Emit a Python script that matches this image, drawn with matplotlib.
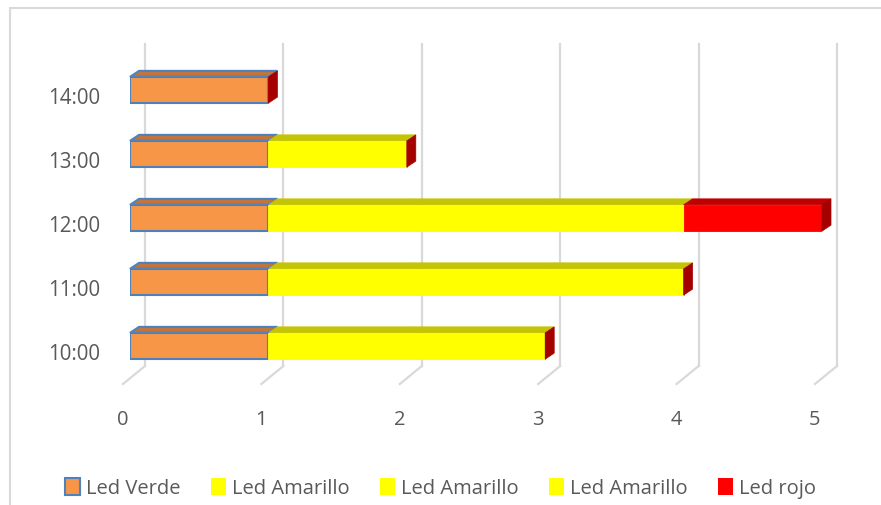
import matplotlib.pyplot as plt
from matplotlib.patches import Polygon, Rectangle, Patch
from matplotlib.transforms import offset_copy

plt.rcParams['font.family'] = ['Open Sans', 'DejaVu Sans']

horas = ['10:00', '11:00', '12:00', '13:00', '14:00']
led_verde = [1, 1, 1, 1, 1]
led_amarillo1 = [1, 1, 1, 1, 0]
led_amarillo2 = [1, 1, 1, 0, 0]
led_amarillo3 = [0, 1, 1, 0, 0]
led_rojo = [0, 0, 1, 0, 0]
x_ticks = [0, 1, 2, 3, 4, 5]

series = [
    ('Led Verde', led_verde, '#F79646', '#C0753A', '#4F81BD'),
    ('Led Amarillo', led_amarillo1, '#FFFF00', '#C4C400', None),
    ('Led Amarillo', led_amarillo2, '#FFFF00', '#C4C400', None),
    ('Led Amarillo', led_amarillo3, '#FFFF00', '#C4C400', None),
    ('Led rojo', led_rojo, '#FF0000', '#C00000', None),
]

W, H = 881, 506
fig = plt.figure(figsize=(W / 100, H / 100), dpi=100)
ax = fig.add_axes([130 / W, (H - 385.4) / H, 692 / W, 332.8 / H])
ax.set_xlim(0, 5)
ax.set_ylim(-0.6, 4.6)
ax.axis('off')

# pixel -> data unit sizes
ux = 5 / 692
uy = 5.2 / 332.8

grid_c = '#D9D9D9'
# back wall gridlines + floor diagonals
for k in x_ticks:
    xb = k + 15 * ux
    xf = k - 7 * ux
    ax.plot([xb, xb], [-20 * uy, 302 * uy], color=grid_c, lw=1.6, clip_on=False, zorder=0)
    ax.plot([xb, xf], [-20 * uy, -38 * uy], color=grid_c, lw=1.6, clip_on=False, zorder=0)
    ax.text(xf, -73 * uy, str(k), ha='center', va='center', fontsize=14.5, color='#595959')

ypos = list(range(len(horas)))
h = 0.41
dx, dy = 9 * ux, 6 * uy
left = [0] * len(horas)
for name, vals, fc, tc, ec in series:
    if ec:
        ax.barh(ypos, vals, left=left, height=h, color=fc, edgecolor=ec, linewidth=1.5, zorder=3)
    else:
        ax.barh(ypos, vals, left=left, height=h, color=fc, edgecolor=fc, linewidth=0.6, zorder=3)
    for i, v in enumerate(vals):
        if v == 0:
            continue
        x0, x1 = left[i], left[i] + v
        yt = ypos[i] + h / 2
        top = Polygon([(x0, yt), (x1, yt), (x1 + dx, yt + dy), (x0 + dx, yt + dy)],
                      closed=True, facecolor=tc, edgecolor=ec or tc,
                      linewidth=1.5 if ec else 0.6, zorder=2, clip_on=False)
        ax.add_patch(top)
    left = [a + b for a, b in zip(left, vals)]

# side face at the end of each stack
for i, end in enumerate(left):
    yb = ypos[i] - h / 2
    yt = ypos[i] + h / 2
    side = Polygon([(end, yb), (end, yt), (end + dx, yt + dy), (end + dx, yb + dy)],
                   closed=True, facecolor='#A50000', edgecolor='#A50000', linewidth=0.5,
                   zorder=4, clip_on=False)
    ax.add_patch(side)

ylab_tr = offset_copy(ax.transData, fig=fig, x=-30, y=-8, units='dots')
for i, lab in enumerate(horas):
    ax.text(0, ypos[i], lab, transform=ylab_tr, ha='right', va='center',
            fontsize=14.8, color='#595959')

handles = [Patch(facecolor=fc, edgecolor=ec or fc, linewidth=1.5 if ec else 0)
           for _, _, fc, _, ec in series]
labels = [s[0] for s in series]
fig.legend(handles, labels, loc='center', bbox_to_anchor=(0.5, (H - 489) / H), ncol=5,
           frameon=False, handlelength=0.75, handleheight=0.9, handletextpad=0.3,
           columnspacing=1.5, prop={'size': 14.5}, labelcolor='#595959')

fig.add_artist(Rectangle((10 / W, -0.1), 1.2, 1.1 - 9 / H, transform=fig.transFigure,
                         fill=False, edgecolor='#D9D9D9', linewidth=1.5))

fig.savefig('out.png', dpi=100)
